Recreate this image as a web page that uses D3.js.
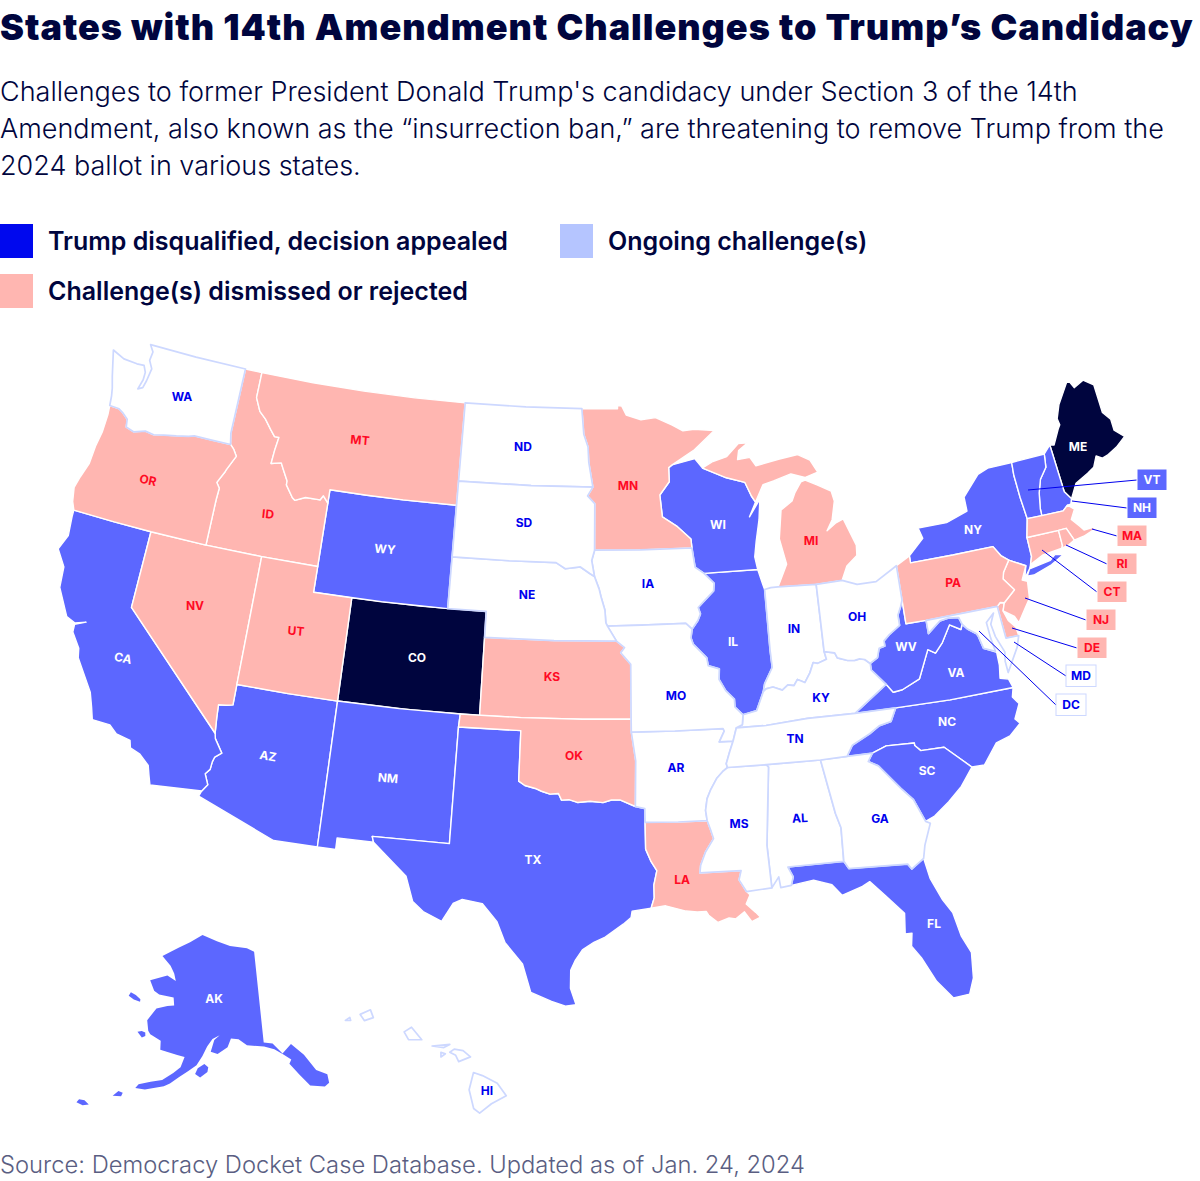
<!DOCTYPE html>
<html>
<head>
<meta charset="utf-8">
<script src="https://cdn.jsdelivr.net/npm/d3@7"></script>
<style>
  html, body { margin: 0; background: #fff; }
  svg { display: block; font-family: Inter, "Noto Sans", sans-serif; }
</style>
</head>
<body>
<div id="chart"></div>
<script>
// status of each state
const disqualified = ['CO', 'ME']
const ongoing = ['AK', 'AZ', 'CA', 'FL', 'IL', 'NC', 'NH', 'NM', 'NY', 'SC', 'TX', 'VA', 'VT', 'WI', 'WV', 'WY']
const dismissed = ['CT', 'DE', 'ID', 'KS', 'LA', 'MA', 'MI', 'MN', 'MT', 'NJ', 'NV', 'OK', 'OR', 'PA', 'RI', 'UT']
const noChallenge = ['AL', 'AR', 'DC', 'GA', 'HI', 'IA', 'IN', 'KY', 'MD', 'MO', 'MS', 'ND', 'NE', 'OH', 'SD', 'TN', 'WA']

const titleText = 'States with 14th Amendment Challenges to Trump’s Candidacy'
const subtitleLines = [
  "Challenges to former President Donald Trump's candidacy under Section 3 of the 14th",
  'Amendment, also known as the “insurrection ban,” are threatening to remove Trump from the',
  '2024 ballot in various states.'
]
const legendLabels = ['Trump disqualified, decision appealed', 'Ongoing challenge(s)', 'Challenge(s) dismissed or rejected']
const sourceText = 'Source: Democracy Docket Case Database. Updated as of Jan. 24, 2024'

// shared borders, lon,lat
const pts = s => s.trim().split(/\s+/).map(p => p.split(',').map(Number))
const rev = s => s.trim().split(/\s+/).reverse().join(' ')
const ring = (...parts) => pts(parts.join(' '))

const columbia = '-124,46.27 -123.45,46.25 -123.2,46.15 -122.85,45.95 -122.78,45.65 -122.3,45.55 -121.7,45.7 -121.2,45.65 -120.65,45.74 -119.97,45.83 -119.3,45.93 -119,46 -118,46 -116.92,46'
const snake = '-117.03,42 -117.03,43.8 -117,44.25 -117.2,44.45 -116.9,44.9 -116.85,45 -116.47,45.6 -116.7,45.85 -116.92,46'
const bitterroot = '-116.05,49 -116.05,48 -115.7,47.5 -115.3,47.25 -114.9,46.9 -114.6,46.65 -114.35,46.65 -114.45,46.1 -114.5,45.6 -113.95,45.7 -113.8,45.5 -113.45,45.05 -113.45,44.9 -113,44.45 -112.85,44.37 -112.3,44.55 -111.5,44.55 -111.35,44.73 -111.05,44.48'
const colorado = '-114.05,36.2 -114.37,36.14 -114.74,36.1 -114.7,35.6 -114.63,35'
const colorado2 = '-114.63,35 -114.57,34.8 -114.14,34.3 -114.43,34.1 -114.5,33.9 -114.53,33.6 -114.72,33.4 -114.5,33 -114.72,32.72'
const redRiver = '-100,34.56 -99.7,34.4 -99.2,34.3 -98.9,34.2 -98.5,34.1 -98.1,34.13 -97.95,33.88 -97.6,33.9 -97.2,33.8 -96.6,33.85 -96,33.8 -95.6,33.9 -95.2,33.9 -94.48,33.64'
const sabine = '-94.04,31.99 -93.8,31.5 -93.55,31.15 -93.7,30.6 -93.7,30.1 -93.85,29.7'
const moNE = '-98.5,43 -98,42.77 -97.2,42.85 -96.7,42.6 -96.45,42.49 -96.2,42 -96.1,41.7 -95.9,41.2 -95.85,40.7 -95.77,40.58'
const moKS = '-95.31,40 -94.9,39.75 -95.1,39.55 -94.6,39.1'
const missIA = '-91.22,43.5 -91.15,43.05 -91.1,42.75 -90.65,42.5'
const missIL = '-90.65,42.5 -90.15,42.1 -90.2,41.8 -90.7,41.45 -91.05,41.2 -90.95,40.95 -91.1,40.7 -91.42,40.38'
const missMO = '-91.42,40.38 -91.5,40.05 -91.4,39.8 -90.75,39.25 -90.7,38.95 -90.15,38.8 -90.2,38.4 -89.9,37.95 -89.5,37.6 -89.5,37.3 -89.13,36.98'
const missKY = '-89.13,36.98 -89.2,36.6 -89.5,36.5'
const missTN = '-89.5,36.5 -89.7,36 -89.9,35.6 -90.1,35.15 -90.05,35'
const missAR = '-90.05,35 -90.3,34.85 -90.6,34.6 -90.9,34.2 -91.1,33.85 -91.2,33.4 -91.15,33'
const missLA = '-91.15,33 -91,32.6 -90.9,32.3 -91.3,31.8 -91.55,31.3 -91.6,31 -89.73,31 -89.85,30.65 -89.55,30.18'
const ohioWV = '-82.6,38.42 -82.2,38.6 -82.05,38.95 -81.75,39 -81.75,39.2 -81.45,39.4 -80.85,39.7 -80.85,40.1 -80.65,40.4 -80.52,40.64'
const ohioKY = '-84.82,39.1 -84.75,38.8 -85.2,38.68 -85.43,38.73 -85.65,38.35 -85.95,38 -86.3,38.15 -86.5,37.93 -86.8,37.98 -87.1,37.8 -87.55,37.95 -87.9,37.9 -88.05,37.8'
const ohioKY2 = '-82.6,38.42 -82.85,38.6 -83.1,38.65 -83.35,38.62 -83.7,38.65 -84.2,38.8 -84.3,39 -84.82,39.1'
const ohioIL = '-88.05,37.8 -88.45,37.1 -89.13,36.98'
const wabash = '-88.05,37.8 -87.95,38.1 -87.5,38.7 -87.53,39.35 -87.53,40.5 -87.53,41.71'
const gaSC = '-83.1,35 -83.35,34.7 -82.9,34.48 -82,33.5 -81.5,33 -81.1,32.1'
const chatta = '-85.6,34.98 -85.18,32.87 -85,32.3 -85.05,31'
const ncTN = '-84.32,35 -84,35.4 -83.1,35.75 -82.6,36 -82,36.1 -81.68,36.59'
const ncSC = '-83.1,35 -82.4,35.2 -81.05,35.15 -81.05,35.05 -80.8,34.82 -79.68,34.8 -78.55,33.86'
const vaWV = '-77.72,39.32 -77.83,39.13 -78.35,39.39 -78.87,38.77 -79.3,38.42 -79.65,38.6 -80.3,37.55 -81.22,37.24 -81.68,37.2 -81.97,37.54'
const sandy = '-81.97,37.54 -82.6,38.17 -82.6,38.42'
const potomacWV = '-79.48,39.2 -78.8,39.6 -78.35,39.65 -77.83,39.6 -77.72,39.32'
const potomacVA = '-77.72,39.32 -77.5,39.1 -77.1,38.85 -77.04,38.75 -76.9,38.25'
const delaware = '-75.35,42 -75.05,41.6 -74.7,41.36 -75.1,40.95 -75.2,40.7 -74.75,40.2 -75.4,39.8'
const ctRiver = '-71.5,45.01 -71.6,44.5 -72.05,44.1 -72.3,43.6 -72.45,43 -72.46,42.73'
const champlain = '-73.35,45 -73.4,44.5 -73.35,43.6 -73.25,42.75'
const wiMN = '-92.1,46.75 -92.3,46.65 -92.3,46.1 -92.85,45.6 -92.75,44.75 -91.95,44.35 -91.25,43.85 -91.22,43.5'
const wiUP = '-90.4,46.57 -89.1,46.13 -88.1,45.9 -87.8,45.35 -87.6,45.1'

// state outlines, lon,lat
const geometry = {
  WA: [ring('-122.75,49 -120,49 -117.03,49 -117.04,46.42 -116.92,46', rev(columbia), '-124.06,46.65 -124.15,46.95 -124.35,47.4 -124.73,48.38 -124,48.17 -123.2,48.13 -122.78,48.15 -122.6,47.9 -122.6,47.6 -122.75,47.2 -122.5,47.3 -122.4,47.6 -122.3,48.1 -122.55,48.4 -122.5,48.75')],
  OR: [ring(columbia, rev(snake), '-120,42 -122,42 -124.21,42 -124.4,42.3 -124.55,42.84 -124.4,43.3 -124.15,43.9 -124.1,44.6 -123.97,45.2 -123.95,45.9')],
  ID: [ring('-117.03,49', bitterroot, '-111.05,42 -114.04,42', snake, '-117.04,46.42')],
  MT: [ring(bitterroot.split(' ')[0], '-113,49 -110,49 -107,49 -104.05,49 -104.05,45 -107,45 -109,45 -111.05,45', rev(bitterroot))],
  WY: [ring('-111.05,45 -109,45 -107,45 -104.05,45 -104.05,41 -107.5,41 -111.05,41')],
  UT: [ring('-114.04,42 -111.05,42 -111.05,41 -109.05,41 -109.05,37 -111.5,37 -114.05,37')],
  CO: [ring('-109.05,41 -105.5,41 -102.05,41 -102.05,37 -105.5,37 -109.05,37')],
  NV: [ring('-120,42 -117.03,42 -114.04,42 -114.05,37', colorado, '-120,39')],
  CA: [ring('-124.21,42 -122,42 -120,42 -120,39', colorado2, '-117.12,32.53 -117.25,32.85 -117.4,33.25 -117.9,33.6 -118.4,33.75 -118.5,34.03 -119.2,34.15 -119.6,34.42 -120.47,34.45 -120.65,34.9 -120.9,35.45 -121.9,36.6 -122,36.96 -122.5,37.5 -122.52,37.8 -122,38 -122.52,37.85 -123,38 -123.75,39 -123.85,39.8 -124.4,40.4 -124.1,41 -124.2,41.75')],
  AZ: [ring('-114.05,37 -111.5,37 -109.05,37 -109.05,31.33 -111.07,31.33 -114.81,32.5', rev(colorado2), rev(colorado))],
  NM: [ring('-109.05,37 -106,37 -103,37 -103.04,36.5 -103.06,32 -106.62,32 -106.53,31.78 -108.21,31.78 -108.21,31.33 -109.05,31.33')],
  TX: [ring('-103.04,36.5 -100,36.5', redRiver, '-94.04,33.55 -94.04,33.02', sabine, '-94.7,29.6 -94.75,29.35 -95.1,29.1 -95.9,28.6 -96.4,28.4 -96.9,28.1 -97.2,27.7 -97.4,27.3 -97.4,26.6 -97.15,25.96 -97.6,25.9 -98.2,26.07 -99.1,26.4 -99.5,27.5 -100.3,28.3 -100.7,29.1 -101.4,29.77 -102.3,29.88 -102.7,29.7 -103.15,28.98 -104,29.3 -104.5,29.65 -104.9,30.6 -106,31.4 -106.53,31.78 -106.62,32 -103.06,32')],
  OK: [ring('-103,37 -100,37 -97,37 -94.62,37 -94.62,36.5 -94.43,35.39', rev(redRiver), '-100,36.5 -103.04,36.5')],
  KS: [ring('-102.05,40 -98.5,40 -95.31,40', moKS, '-94.62,37 -97,37 -100,37 -102.05,37')],
  NE: [ring('-104.05,43 -101,43', moNE, '-95.31,40 -98.5,40 -102.05,40 -102.05,41 -104.05,41')],
  SD: [ring('-104.05,45.94 -100,45.94 -96.56,45.94 -96.85,45.6 -96.45,45.3 -96.45,43.5 -96.6,43.1 -96.45,42.49 -96.7,42.6 -97.2,42.85 -98,42.77 -98.5,43 -101,43 -104.05,43')],
  ND: [ring('-104.05,49 -100.5,49 -97.23,49 -97.1,48 -96.85,47.5 -96.8,46.9 -96.56,45.94 -100,45.94 -104.05,45.94')],
  MN: [ring('-97.23,49 -95.15,49 -95.15,49.12 -94.9,49.1 -94.65,48.75 -93.8,48.55 -92.95,48.62 -92,48.3 -91.4,48.06 -90.75,48.1 -89.6,48 -90.8,47.3', wiMN, '-94,43.5 -96.45,43.5 -96.45,45.3 -96.85,45.6 -96.56,45.94 -96.8,46.9 -96.85,47.5 -97.1,48')],
  IA: [ring('-96.45,43.5 -94,43.5', missIA, missIL, '-91.73,40.61 -94,40.6 -95.77,40.58 -95.85,40.7 -95.9,41.2 -96.1,41.7 -96.2,42 -96.45,42.49 -96.6,43.1')],
  MO: [ring('-95.77,40.58 -94,40.6 -91.73,40.61', missMO, missKY, '-89.7,36 -90.37,36 -90.1,36.4 -90.15,36.5 -92.5,36.5 -94.62,36.5 -94.62,37', rev(moKS))],
  AR: [ring('-94.62,36.5 -92.5,36.5 -90.15,36.5 -90.1,36.4 -90.37,36 -89.7,36 -89.9,35.6 -90.1,35.15', missAR, '-92.5,33 -94.04,33.02 -94.04,33.55 -94.48,33.64 -94.43,35.39')],
  LA: [ring('-94.04,33.02 -92.5,33', missLA, '-89.4,30.05 -89.6,29.7 -89.2,29.35 -89,29.15 -89.4,29 -89.7,29.4 -90.1,29.15 -90.4,29.2 -90.9,29.05 -91.3,29.35 -91.4,29.5 -91.8,29.5 -92.3,29.55 -93.2,29.78 -93.85,29.7', rev(sabine))],
  MS: [ring('-90.05,35 -88.2,35 -88.1,34.9 -88.47,31.9 -88.4,30.25 -89.55,30.18 -89.85,30.65 -89.73,31 -91.6,31 -91.55,31.3 -91.3,31.8 -90.9,32.3 -91,32.6 -91.15,33', rev(missAR))],
  AL: [ring('-88.2,35 -85.6,34.98', chatta, '-87.6,31 -87.4,30.6 -87.52,30.28 -88,30.23 -88.05,30.65 -88.4,30.25 -88.47,31.9 -88.1,34.9')],
  GA: [ring('-85.6,34.98 -84.32,35', gaSC, '-80.9,32 -81.3,31.2 -81.45,30.7 -82.05,30.36 -82.2,30.57 -84.86,30.7 -85.05,31', rev(chatta))],
  FL: [ring('-87.6,31 -85.05,31 -84.86,30.7 -82.2,30.57 -82.05,30.36 -81.45,30.7 -81.3,29.9 -80.9,29 -80.55,28.45 -80.35,27.5 -80.03,26.8 -80.13,25.8 -80.4,25.2 -81.1,25.15 -81.7,25.9 -82.2,26.9 -82.55,27.4 -82.45,27.9 -82.75,27.9 -82.65,28.7 -83.4,29.5 -84,30.1 -84.35,29.95 -85.3,29.7 -85.7,30.15 -86.5,30.4 -87.52,30.28 -87.4,30.6')],
  SC: [ring(ncSC, '-79.2,33.2 -79.9,32.7 -80.65,32.25 -81.1,32.1', rev(gaSC))],
  NC: [ring(ncTN, '-79,36.55 -75.87,36.55 -76,36.2 -75.75,35.9 -76.1,35.35 -75.9,35.15 -76.5,34.75 -77.2,34.6 -77.95,33.85 -78.55,33.86', rev(ncSC), '-84.32,35')],
  TN: [ring('-90.05,35 -88.2,35 -85.6,34.98 -84.32,35', ncTN, '-83.68,36.6 -86,36.62 -88.05,36.5 -89.5,36.5', missTN)],
  KY: [ring('-89.5,36.5 -88.05,36.5 -86,36.62 -83.68,36.6', sandy, ohioKY2, ohioKY, ohioIL, missKY)],
  VA: [ring('-83.68,36.6 -81.68,36.59 -79,36.55 -75.87,36.55 -76,36.9 -76.4,37 -76.3,37.5 -76.3,38', rev(potomacVA), vaWV)],
  WV: [ring(ohioWV, '-80.52,39.72 -79.48,39.72', potomacWV, vaWV, sandy)],
  OH: [ring('-84.82,41.7 -83.45,41.73 -82.7,41.5 -81.7,41.5 -80.52,41.98', rev(ohioWV), ohioKY2)],
  IN: [ring('-87.53,41.71 -87.2,41.76 -86.82,41.76 -84.82,41.7', ohioKY, wabash)],
  IL: [ring('-90.65,42.5 -87.8,42.5 -87.6,41.9', rev(wabash), ohioIL, rev(missMO), rev(missIL))],
  WI: [ring('-92.1,46.75 -90.8,46.95', wiUP, '-88,44.55 -87.35,45.2 -87.5,44.4 -87.75,43.6 -87.9,43 -87.8,42.5 -90.65,42.5', rev(missIA), rev(wiMN))],
  MI: [ring(wiUP, '-87.1,45.75 -86.5,45.85 -85.5,46.05 -84.75,45.85 -84,46 -84.35,46.5 -85,46.77 -86.1,46.67 -87.4,46.5 -87.7,46.85 -88.4,46.8 -88.3,47.15 -87.75,47.42 -88.3,47.42 -89,46.95 -89.8,46.8'),
       ring('-84.75,45.75 -84.1,45.5 -83.4,45.2 -83.3,44.8 -83.55,44.1 -83.9,43.7 -83.4,43.95 -82.95,44.07 -82.45,43 -82.5,42.6 -83.1,42.25 -83.45,41.73 -84.82,41.7 -86.82,41.76 -86.25,42.6 -86.5,43.6 -86.25,44.7 -85.6,45 -85.4,45.3 -85,45.7')],
  PA: [ring('-80.52,41.98 -79.76,42.27 -79.76,42 -77.5,42 -75.35,42', delaware, '-75.6,39.84 -75.79,39.72 -79.48,39.72 -80.52,39.72')],
  NY: [ring('-79.76,42.27 -78.9,42.85 -79.05,43.27 -77.5,43.27 -76.3,43.55 -76.3,44.1 -75.3,44.85 -74.7,45', champlain, '-73.5,42.05 -73.5,41.3 -73.65,41 -73.75,40.85 -73.95,40.6 -74.05,40.65 -73.9,41 -74.7,41.36 -75.05,41.6 -75.35,42 -77.5,42 -79.76,42'),
       ring('-74.03,40.6 -73.75,40.85 -72.6,40.98 -72.3,41.15 -71.87,41.07 -72.6,40.8 -73.6,40.58')],
  NJ: [ring('-74.7,41.36 -73.9,41 -74.25,40.5 -74,40.4 -74.1,39.75 -74.4,39.45 -74.9,38.93 -75.05,39.2 -75.55,39.5 -75.4,39.8 -74.75,40.2 -75.2,40.7 -75.1,40.95')],
  DE: [ring('-75.79,39.72 -75.6,39.84 -75.4,39.8 -75.55,39.5 -75.4,39.1 -75.1,38.8 -75.05,38.45 -75.7,38.46')],
  MD: [ring('-79.48,39.72 -75.79,39.72 -75.7,38.46 -75.05,38.45 -75.25,38.03 -75.95,37.15 -75.98,37.6 -75.9,37.95 -76.2,38.6 -76.3,39.1 -76.05,39.5 -76.5,39.2 -76.45,38.6 -76.35,38.05', rev(potomacVA), rev(potomacWV))],
  DC: [ring('-77.12,38.93 -77.04,39 -76.91,38.89 -77.04,38.79')],
  CT: [ring('-73.5,42.05 -71.8,42.02 -71.8,41.42 -71.86,41.32 -72.9,41.25 -73.65,41 -73.5,41.3')],
  RI: [ring('-71.8,42.02 -71.38,42.02 -71.13,41.5 -71.5,41.37 -71.86,41.32 -71.8,41.42')],
  MA: [ring('-73.25,42.75 -72.46,42.73 -71.3,42.7 -71,42.87 -70.7,42.65 -71,42.3 -70.65,41.95 -70.5,41.78 -70,41.78 -70.1,42.05 -69.95,41.7 -70.6,41.55 -71.13,41.5 -71.38,42.02 -71.8,42.02 -73.5,42.05')],
  VT: [ring(champlain.split(' ')[0], ctRiver, rev(champlain))],
  NH: [ring('-71.5,45.01 -71.08,45.3 -70.98,43.4 -70.7,43.07 -70.82,42.87 -71,42.87 -71.3,42.7', rev(ctRiver))],
  ME: [ring('-71.08,45.3 -70.85,45.25 -70.4,45.8 -70.25,45.95 -70.3,46.2 -70,46.7 -69.23,47.46 -69.05,47.43 -68.9,47.18 -68.3,47.36 -67.79,47.07 -67.78,45.94 -67.45,45.6 -67.45,45.15 -67,44.8 -67.6,44.5 -68.2,44.3 -68.5,44.25 -68.8,44.4 -69.1,44 -69.5,43.85 -69.8,43.75 -70.25,43.6 -70.7,43.07 -70.98,43.4')],
  AK: [ring('-141,69.65 -143,70.1 -148,70.4 -152,70.85 -156.6,71.35 -160,70.4 -163,69.6 -166.8,68.35 -164,67.6 -162.6,66.9 -161.8,66.2 -164.2,66.55 -168.05,65.6 -166.4,64.7 -165,64.45 -161.5,64.5 -161,63.7 -162.5,63.5 -164.8,63 -166.1,61.6 -165.3,60.6 -164.7,60.3 -162.3,59.9 -162,59 -158.5,58.8 -157,58.7 -157.5,57.6 -158.7,56.9 -160.5,56 -162.5,55.6 -164.5,55.05 -164.9,54.6 -163.2,54.7 -161.5,55.1 -160,55.4 -159,55.8 -157.5,56.6 -156,57.3 -154.5,58 -153.5,59 -152.7,60 -151.7,60.8 -150.2,61.2 -151.3,60.7 -151.9,59.5 -150.5,59.3 -148.5,60 -147.8,60.9 -146.2,60.8 -144.5,60.15 -141,59.9 -139,59.5 -137.5,58.9 -136,58.2 -136.5,57.8 -135,56.5 -133.5,55.2 -131,54.75 -130.1,55 -130,55.9 -131.8,56.6 -133.4,58.4 -135.5,59.75 -137.5,58.95 -139.2,60.1 -141,60.3'),
       ring('-154.6,57.1 -153.6,56.8 -152.3,57.4 -152.2,57.9 -153,58.2 -154.2,57.7'),
       ring('-171.7,63.4 -170.3,63.2 -168.8,63.2 -168.9,63.45 -170.2,63.7 -171.5,63.8'),
       ring('-167.4,60.2 -166.2,59.75 -165.6,60 -165.8,60.35 -166.6,60.4'),
       ring('-168.3,53.2 -166.9,53.4 -166.8,53.8 -167.6,53.85'),
       ring('-173.6,51.3 -172.5,51.25 -171.6,51.55 -172.5,51.8 -173.4,51.7')],
  HI: [ring('-155.9,20.25 -155.6,20.15 -155.1,19.9 -154.8,19.5 -155.3,19.25 -155.7,18.95 -155.9,19.1 -156.05,19.7'),
       ring('-156.7,20.9 -156.55,21 -156.25,20.95 -156,20.75 -156.4,20.6 -156.5,20.8'),
       ring('-158.25,21.55 -158,21.7 -157.65,21.3 -158.1,21.3'),
       ring('-159.75,22.1 -159.4,22.25 -159.3,22 -159.6,21.9'),
       ring('-157.3,21.1 -156.7,21.15 -156.9,21.05'),
       ring('-157,20.9 -156.85,20.85 -157,20.75'),
       ring('-160.25,21.9 -160.1,22 -160.07,21.9')]
}

// layout tables, in page pixels
const labelPos = {
  WA: [182, 397], OR: [148, 480, 12], CA: [123, 658, 12], NV: [195, 606], ID: [268, 514, 6], MT: [360, 440, 5],
  WY: [385, 549, 5], UT: [296, 631, 5], AZ: [268, 756, 10], CO: [417, 658], NM: [388, 778, 5], ND: [523, 447],
  SD: [524, 523], NE: [527, 595], KS: [552, 677], OK: [574, 756], TX: [533, 860], MN: [628, 486], IA: [648, 584],
  MO: [676, 696], AR: [676, 768], LA: [682, 880], WI: [718, 525], IL: [733, 642], MS: [739, 824], AL: [800, 818, -3],
  IN: [794, 629], KY: [821, 698], TN: [795, 739], GA: [880, 819], MI: [811, 541], OH: [857, 617], FL: [934, 924],
  SC: [927, 771], NC: [947, 722], VA: [956, 673], WV: [906, 647], PA: [953, 583], NY: [973, 530], ME: [1078, 447],
  AK: [214, 999], HI: [487, 1091]
}
const callouts = [
  ['VT', 1137, 469, 1028, 490], ['NH', 1127, 497, 1072, 501], ['MA', 1117, 525, 1092, 529],
  ['RI', 1107, 553, 1066, 545], ['CT', 1097, 581, 1042, 550], ['NJ', 1086, 609, 1025, 598],
  ['DE', 1077, 637, 1012, 628], ['MD', 1066, 665, 1014, 642], ['DC', 1056, 694, 979, 631]
]

const width = 1200, height = 1181
const NAVY = '#00053e', BLUE = '#0000ee', MID = '#5c67ff', PINK = '#ffb6b1', RED = '#ff0a24', EDGE = '#cdd8ff'

const svg = d3.select('#chart').append('svg')
  .attr('width', width).attr('height', height).attr('viewBox', [0, 0, width, height])

svg.append('text').attr('x', 0).attr('y', 39.5).text(titleText)
  .attr('font-size', 36).attr('font-weight', 900).attr('letter-spacing', 0.98).attr('fill', NAVY)

svg.append('g').selectAll('text').data(subtitleLines).join('text')
  .attr('x', 0).attr('y', (d, i) => 101 + i * 37).text(d => d)
  .attr('font-size', 27).attr('font-weight', 300).attr('fill', NAVY)

const legend = svg.append('g').selectAll('g')
  .data([[0, 224, '#0008ee'], [560, 224, '#b5c5ff'], [0, 274, PINK]]).join('g')
  .attr('transform', d => `translate(${d[0]},${d[1]})`)
legend.append('rect').attr('width', 33).attr('height', 34).attr('fill', d => d[2])
legend.append('text').attr('x', 48).attr('y', 26).text((d, i) => legendLabels[i])
  .attr('font-size', 25).attr('font-weight', 600).attr('fill', NAVY)

svg.append('text').attr('x', 0).attr('y', 1173).text(sourceText)
  .attr('font-size', 23.75).attr('font-weight', 300).attr('fill', '#5a5e82')

// projections: lower 48 plus inset alaska and hawaii
const lower48 = d3.geoConicEqualArea().rotate([96, 0]).center([-0.6, 38.7]).parallels([29.5, 45.5])
  .scale(1478).translate([591, 675])
const alaska = d3.geoConicEqualArea().rotate([148, 0]).center([0, 58.5]).parallels([55, 65])
  .scale(560).translate([230, 1062])
const hawaii = d3.geoConicEqualArea().rotate([157, 0]).center([-3, 19.9]).parallels([8, 18])
  .scale(1800).translate([352, 1083])
const pathFor = id => d3.geoPath(id === 'AK' ? alaska : id === 'HI' ? hawaii : lower48)

// rings need to wind the way d3.geo expects
const toFeature = id => {
  const polys = geometry[id].map(r => {
    const closed = r.concat([r[0]])
    const poly = { type: 'Polygon', coordinates: [closed] }
    if (d3.geoArea(poly) > 2 * Math.PI) poly.coordinates = [closed.slice().reverse()]
    return poly.coordinates
  })
  return { type: 'MultiPolygon', coordinates: polys, id }
}

const fillOf = id => disqualified.includes(id) ? NAVY : ongoing.includes(id) ? MID : dismissed.includes(id) ? PINK : '#fff'
const textOf = id => dismissed.includes(id) ? RED : noChallenge.includes(id) ? BLUE : '#fff'

// white states go last so their pale outline stays on top
const order = [...disqualified, ...ongoing, ...dismissed, ...noChallenge]
svg.append('g').selectAll('path').data(order).join('path')
  .attr('d', d => pathFor(d)(toFeature(d)))
  .attr('fill', fillOf)
  .attr('stroke', d => d === 'AK' ? 'none' : noChallenge.includes(d) ? EDGE : '#fff')
  .attr('stroke-width', d => noChallenge.includes(d) ? 1.7 : 1.4)
  .attr('stroke-linejoin', 'round')

svg.append('g').selectAll('text').data(Object.keys(labelPos)).join('text')
  .attr('transform', d => `translate(${labelPos[d][0]},${labelPos[d][1]}) rotate(${labelPos[d][2] || 0})`)
  .attr('text-anchor', 'middle').attr('dy', '0.36em')
  .attr('font-size', 12).attr('font-weight', 700)
  .attr('fill', textOf).text(d => d)

// boxed labels for the small northeastern states
const call = svg.append('g').selectAll('g').data(callouts).join('g')
call.append('line')
  .attr('x1', d => d[1]).attr('y1', d => d[2] + 11)
  .attr('x2', d => d[3]).attr('y2', d => d[4])
  .attr('stroke', BLUE).attr('stroke-width', 1)
call.append('rect')
  .attr('x', d => d[1]).attr('y', d => d[2]).attr('width', 30).attr('height', 21.5)
  .attr('fill', d => fillOf(d[0])).attr('stroke', d => noChallenge.includes(d[0]) ? EDGE : '#fff').attr('stroke-width', 1)
call.append('text')
  .attr('x', d => d[1] + 15).attr('y', d => d[2] + 11).attr('dy', '0.36em')
  .attr('text-anchor', 'middle').attr('font-size', 12).attr('font-weight', 700)
  .attr('fill', d => textOf(d[0])).text(d => d[0])
</script>
</body>
</html>
